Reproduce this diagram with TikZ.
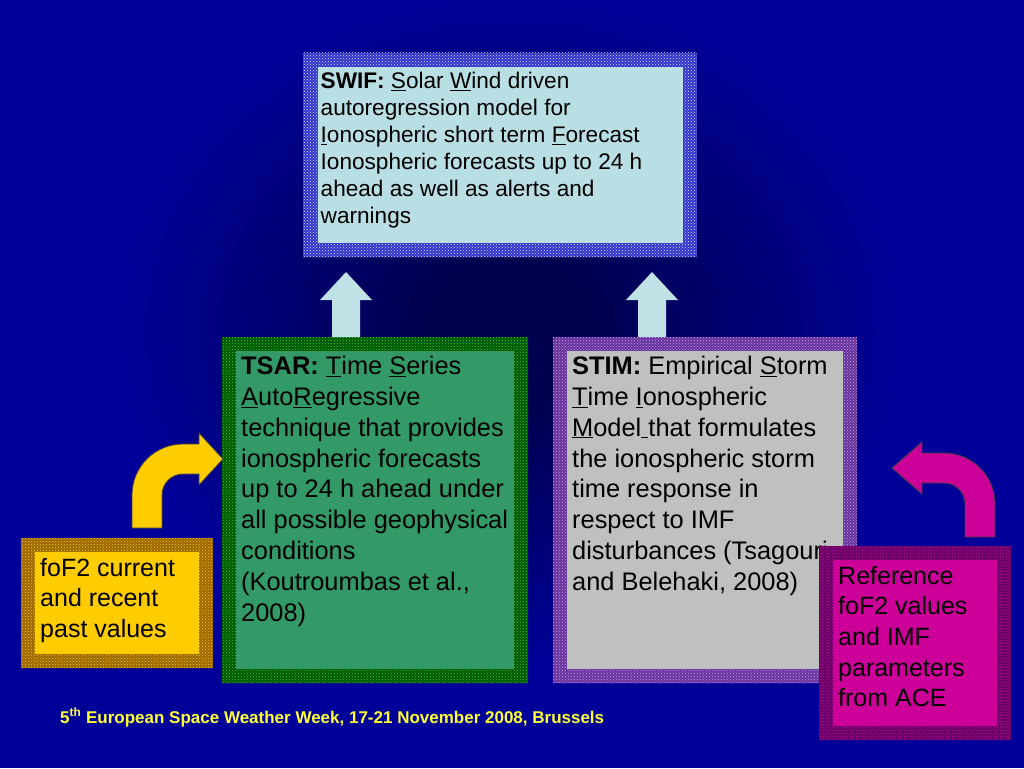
\documentclass[tikz,border=0pt]{standalone}
\usepackage{fontspec}
\setmainfont{Liberation Sans}
\usetikzlibrary{calc,patterns}

\definecolor{bgblue}{HTML}{000099}
\definecolor{bgdark}{HTML}{00004E}
\definecolor{swifdk}{HTML}{3333CC}
\definecolor{swiflt}{HTML}{CCE6F0}
\definecolor{swifin}{HTML}{B9DEE3}
\definecolor{tsardk}{HTML}{005500}
\definecolor{tsarlt}{HTML}{33CC33}
\definecolor{tsarin}{HTML}{339966}
\definecolor{stimdk}{HTML}{663399}
\definecolor{stimlt}{HTML}{CC99FF}
\definecolor{stimin}{HTML}{C0C0C0}
\definecolor{yeldk}{HTML}{996600}
\definecolor{yellt}{HTML}{FFCC00}
\definecolor{yelin}{HTML}{FFCC00}
\definecolor{magdk}{HTML}{660066}
\definecolor{maglt}{HTML}{CC0099}
\definecolor{magin}{HTML}{CC0099}
\definecolor{upcol}{HTML}{C0E2E6}
\definecolor{footcol}{HTML}{FFFF33}

\newcommand\swiffont{\fontsize{22.6}{27}\selectfont}
\newcommand\modelfont{\fontsize{25.4}{30.8}\selectfont}
\newcommand\notefont{\fontsize{25}{30.6}\selectfont}

\pgfdeclareradialshading{bgglow}{\pgfpoint{0bp}{0bp}}{color(0bp)=(bgdark); color(5bp)=(bgdark); color(25bp)=(bgblue); color(50bp)=(bgblue)}

\tikzset{
  patframe/.style={anchor=north west, inner sep=0pt, outer sep=0pt, fill=#1dk,
    postaction={pattern=crosshatch dots, pattern color=#1lt}},
  inbox/.style={inner sep=0pt, outer sep=0pt, fill=#1in},
  txt/.style={anchor=north west, inner sep=0pt, align=left, text=black},
  bent/.style={draw=black!75, line width=0.8pt, line join=miter},
}

\begin{document}
\begin{tikzpicture}[x=1pt, y=-1pt]
\useasboundingbox (0,0) rectangle (1024,768);
\fill[bgblue] (0,0) rectangle (1024,768);
\shade[shading=bgglow] (110,-10) rectangle (910,670);

% top box
\node[patframe=swif, minimum width=394, minimum height=204] (swif) at (303,53) {};
\node[inbox=swif, minimum width=365, minimum height=176] (swifbox) at (swif.center) {};
\node[txt, font=\swiffont] (swiftxt) at ($(swifbox.north west)+(3,5)$)
  {\textbf{SWIF:} \underline{S}olar \underline{W}ind driven\\
   autoregression model for\\
   \underline{I}onospheric short term \underline{F}orecast\\
   Ionospheric forecasts up to 24 h\\
   ahead as well as alerts and\\
   warnings};

% the two models
\node[patframe=tsar, minimum width=306, minimum height=346] (tsar) at (222,337) {};
\node[inbox=tsar, minimum width=278, minimum height=318] (tsarbox) at (tsar.center) {};
\node[txt, font=\modelfont] (tsartxt) at ($(tsarbox.north west)+(5,5)$)
  {\textbf{TSAR:} \underline{T}ime \underline{S}eries\\
   \underline{A}uto\underline{R}egressive\\
   technique that provides\\
   ionospheric forecasts\\
   up to 24 h ahead under\\
   all possible geophysical\\
   conditions\\
   (Koutroumbas et al.,\\
   2008)};

\node[patframe=stim, minimum width=304, minimum height=346] (stim) at (553,337) {};
\node[inbox=stim, minimum width=276, minimum height=318] (stimbox) at (stim.center) {};
\node[txt, font=\modelfont] (stimtxt) at ($(stimbox.north west)+(5,5)$)
  {\textbf{STIM:} Empirical \underline{S}torm\\
   \underline{T}ime \underline{I}onospheric\\
   \underline{M}odel\underline{\ }that formulates\\
   the ionospheric storm\\
   time response in\\
   respect to IMF\\
   disturbances (Tsagouri\\
   and Belehaki, 2008)};

% inputs
\node[patframe=yel, minimum width=192, minimum height=130] (yel) at (21,538) {};
\node[inbox=yel, minimum width=164, minimum height=102] (yelbox) at (yel.center) {};
\node[txt, font=\notefont] (yeltxt) at ($(yelbox.north west)+(5,6)$)
  {foF2 current\\ and recent\\ past values};

\node[patframe=mag, minimum width=192, minimum height=194] (mag) at (819,546) {};
\node[inbox=mag, minimum width=164, minimum height=166] (magbox) at (mag.center) {};
\node[txt, font=\notefont] (magtxt) at ($(magbox.north west)+(5,6)$)
  {Reference\\ foF2 values\\ and IMF\\ parameters\\ from ACE};

% up arrows
\coordinate (upL) at ($(swif.south west)+(43,0)$);
\coordinate (upR) at ($(swif.south east)+(-45,0)$);
\foreach \c/\b in {upL/tsar, upR/stim}
  \fill[upcol, shift={(\c |- \b.north)}] (-14,0) -- (-14,-37) -- (-26,-37) -- (0,-65)
    -- (26,-37) -- (14,-37) -- (14,0) -- cycle;

% bent arrows
\coordinate (yelA) at ($(yel.north west)+(126,-10)$);
\draw[bent, fill=yelin, shift={(yelA)}] (-15,0) -- (-15,-33)
  .. controls (-15,-61.2) and (7.8,-84) .. (36,-84) -- (52,-84) -- (52,-95)
  -- (76,-69) -- (52,-43) -- (52,-54) -- (36,-54)
  .. controls (24.4,-54) and (15,-44.6) .. (15,-33) -- (15,0) -- cycle;

\coordinate (magA) at ($(mag.north west)+(161,-9)$);
\draw[bent, fill=magin, shift={(magA)}] (15,0) -- (15,-33)
  .. controls (15,-61.2) and (-7.8,-84) .. (-36,-84) -- (-58,-84) -- (-58,-95)
  -- (-88,-69) -- (-58,-43) -- (-58,-54) -- (-36,-54)
  .. controls (-24.4,-54) and (-15,-44.6) .. (-15,-33) -- (-15,0) -- cycle;

% footer
\node[anchor=base west, inner sep=0pt, text=footcol, font=\fontsize{17}{20}\selectfont\bfseries] (foot) at (60,723)
  {5\textsuperscript{th} European Space Weather Week, 17-21 November 2008, Brussels};
\end{tikzpicture}
\end{document}
